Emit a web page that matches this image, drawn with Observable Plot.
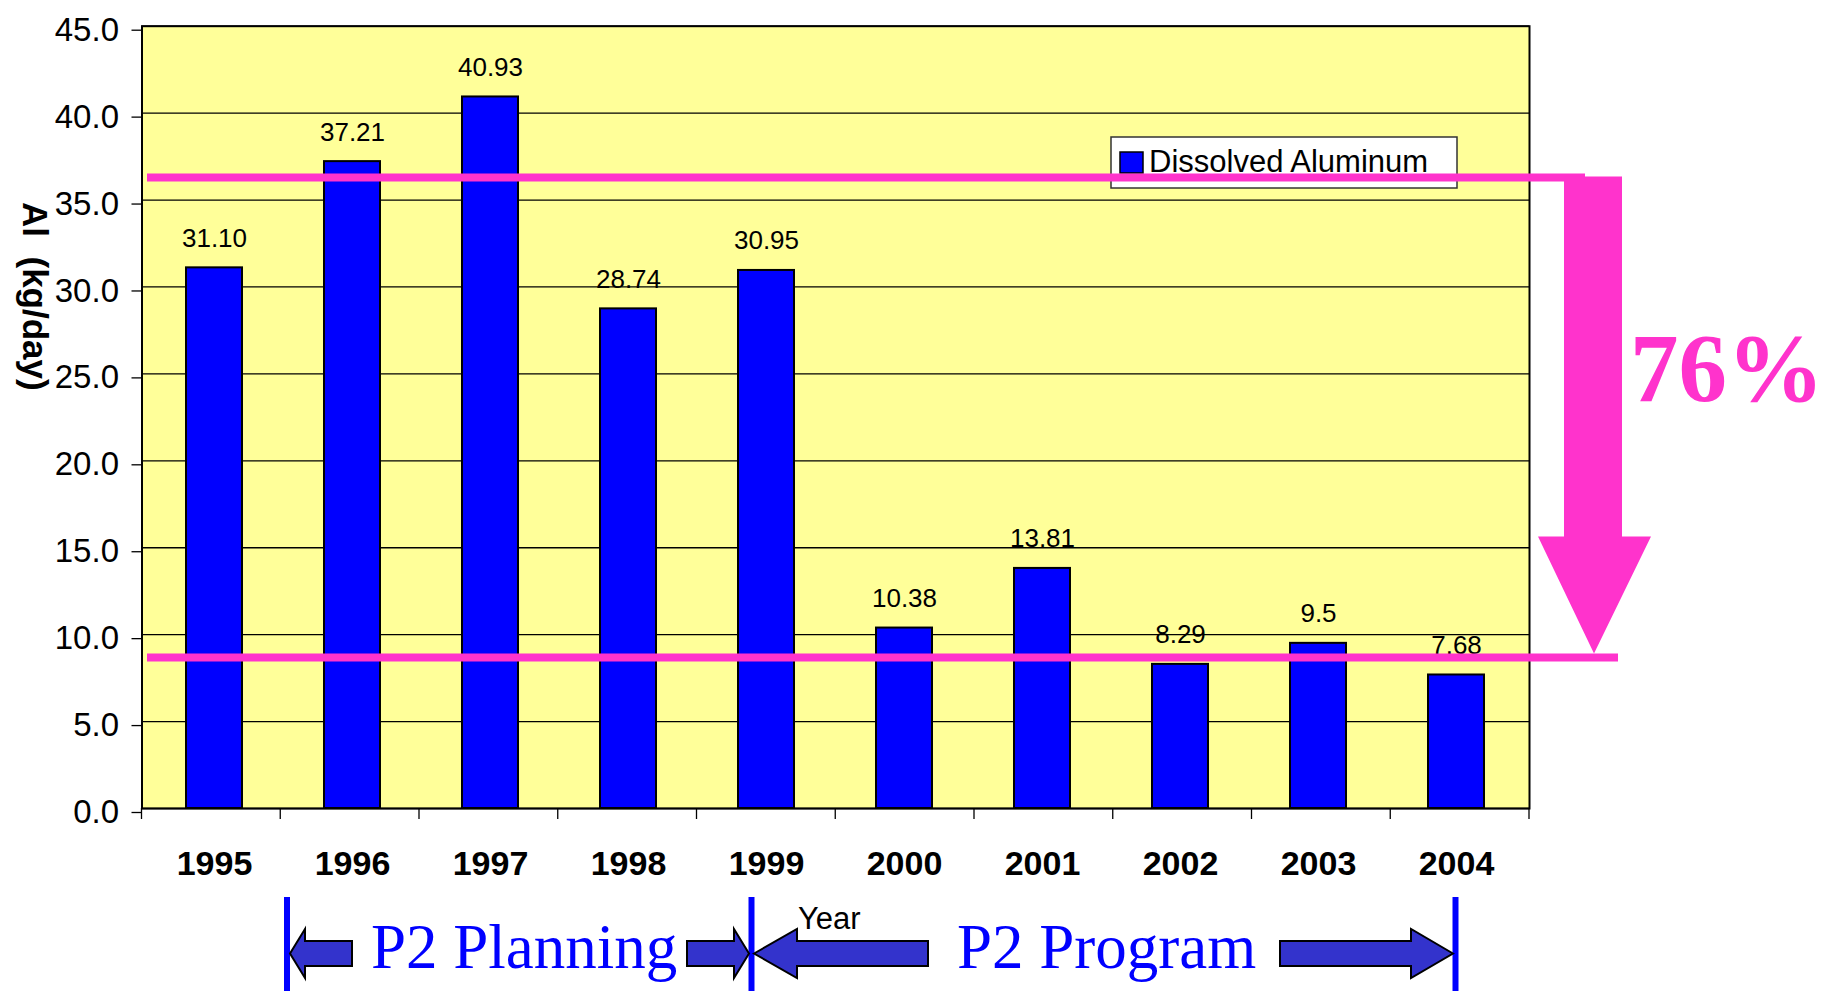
<!DOCTYPE html>
<html>
<head>
<meta charset="utf-8">
<script src="https://cdn.jsdelivr.net/npm/d3@7"></script>
<script src="https://cdn.jsdelivr.net/npm/@observablehq/plot@0.6"></script>
<style>
  body { margin: 0; background: #ffffff; }
  #chart svg { display: block; }
</style>
</head>
<body>
<div id="chart"></div>
<script>
// ---- data ----
const years = ["1995", "1996", "1997", "1998", "1999", "2000", "2001", "2002", "2003", "2004"];
const values = [31.10, 37.21, 40.93, 28.74, 30.95, 10.38, 13.81, 8.29, 9.5, 7.68];
const valueLabels = ["31.10", "37.21", "40.93", "28.74", "30.95", "10.38", "13.81", "8.29", "9.5", "7.68"];
const yTicks = [0, 5, 10, 15, 20, 25, 30, 35, 40, 45];
const referenceLevels = [36.27, 8.66];          // pink before / after lines
const reductionText = "76%";
const seriesName = "Dissolved Aluminum";
const yLabel = "Al  (kg/day)";
const xLabel = "Year";
const phaseNames = ["P2 Planning", "P2 Program"];

const data = years.map((year, i) => ({year, value: values[i], label: valueLabels[i]}));

// ---- layout ----
const W = 1821, H = 991;
const mL = 141.5, mR = 292, mT = 25.7, mB = 183;
const pink = "#FF33CC";
const sans = "'Liberation Sans', Arial, Helvetica, sans-serif";
const serif = "'Liberation Serif', 'Times New Roman', serif";

function txt(g, x, y, s, size, opts = {}) {
  return g.append("text")
    .attr("x", x).attr("y", y)
    .attr("font-family", opts.family || sans)
    .attr("font-size", size)
    .attr("font-weight", opts.weight || "normal")
    .attr("fill", opts.fill || "#000")
    .attr("text-anchor", opts.anchor || "start")
    .text(s);
}

// x boundary tick marks (Excel style, between categories)
function boundaryTicks(index, scales, values, dims) {
  const g = d3.create("svg:g");
  const left = dims.marginLeft, right = dims.width - dims.marginRight;
  const bottom = dims.height - dims.marginBottom;
  const step = (right - left) / years.length;
  d3.range(years.length + 1).forEach(i => {
    const x = left + i * step;
    g.append("line").attr("x1", x).attr("x2", x)
      .attr("y1", bottom).attr("y2", bottom + 11)
      .attr("stroke", "#000").attr("stroke-width", 1.3);
  });
  return g.node();
}

// legend + pink reduction annotation
function annotations(index, scales, values, dims) {
  const g = d3.create("svg:g");
  // legend box
  g.append("rect").attr("x", 1111).attr("y", 137).attr("width", 346).attr("height", 51)
    .attr("fill", "#fff").attr("stroke", "#333").attr("stroke-width", 1.5);
  g.append("rect").attr("x", 1120).attr("y", 152).attr("width", 23).attr("height", 21)
    .attr("fill", "#0000FF").attr("stroke", "#000").attr("stroke-width", 1.5);
  txt(g, 1149, 172, seriesName, 31);

  const yHi = scales.y(referenceLevels[0]);
  const yLo = scales.y(referenceLevels[1]);
  // reference lines
  g.append("line").attr("x1", 147).attr("x2", 1585).attr("y1", yHi).attr("y2", yHi)
    .attr("stroke", pink).attr("stroke-width", 8);
  g.append("line").attr("x1", 147).attr("x2", 1618).attr("y1", yLo).attr("y2", yLo)
    .attr("stroke", pink).attr("stroke-width", 8);
  // down arrow
  const tipY = yLo - 4, headY = tipY - 117, topY = yHi - 1;
  const pts = [[1564, topY], [1622, topY], [1622, headY], [1651, headY], [1594, tipY],
               [1538, headY], [1564, headY]];
  g.append("polygon").attr("points", pts.map(p => p.join(",")).join(" ")).attr("fill", pink);
  txt(g, 1630, 401, reductionText, 97, {family: serif, weight: "bold", fill: pink});
  return g.node();
}

// bottom phase annotation
function phases(index, scales, values, dims) {
  const g = d3.create("svg:g");
  const blue = "#0000FF", arrowFill = "#3333CC";
  [287, 751.5, 1455.5].forEach(x => {
    g.append("line").attr("x1", x).attr("x2", x).attr("y1", 897).attr("y2", 995)
      .attr("stroke", blue).attr("stroke-width", 6);
  });
  const yc = 953.5, hh = 24.5, sh = 12.5;
  function arrow(tip, base, end) {
    const pts = [[tip, yc], [base, yc - hh], [base, yc - sh], [end, yc - sh],
                 [end, yc + sh], [base, yc + sh], [base, yc + hh]];
    g.append("polygon").attr("points", pts.map(p => p.join(",")).join(" "))
      .attr("fill", arrowFill).attr("stroke", "#000").attr("stroke-width", 2)
      .attr("stroke-linejoin", "miter");
  }
  arrow(290, 305, 352);
  arrow(749, 734, 687);
  arrow(754, 797, 928);
  arrow(1453, 1411, 1280);
  txt(g, 371, 968, phaseNames[0], 63, {family: serif, fill: blue});
  txt(g, 957, 968, phaseNames[1], 63, {family: serif, fill: blue});
  txt(g, 798, 929, xLabel, 31);
  return g.node();
}

const chart = Plot.plot({
  width: W,
  height: H,
  marginLeft: mL,
  marginRight: mR,
  marginTop: mT,
  marginBottom: mB,
  style: {fontFamily: sans, background: "#fff", overflow: "visible"},
  x: {type: "band", domain: years, paddingInner: 0.592, paddingOuter: 0.296, align: 0.5},
  y: {domain: [0, 45]},
  marks: [
    Plot.frame({fill: "#FFFF99", stroke: null}),
    Plot.gridY(yTicks, {stroke: "#000", strokeOpacity: 1, strokeWidth: 1.3}),
    Plot.barY(data, {x: "year", y: "value", fill: "#0000FF", stroke: "#000", strokeWidth: 2}),
    Plot.text(data, {x: "year", y: "value", text: "label", dy: -21, lineAnchor: "bottom",
                     fontSize: 26, fill: "#000"}),
    Plot.frame({stroke: "#000", strokeWidth: 2}),
    Plot.axisY(yTicks, {tickFormat: d3.format(".1f"), fontSize: 33, tickSize: 10,
                        tickPadding: 13, dy: 4, label: null, stroke: "#000", strokeWidth: 1.3}),
    Plot.axisX({tickSize: 0, tickPadding: 42, fontSize: 34, fontWeight: "bold", label: null}),
    Plot.text([yLabel], {frameAnchor: "left", textAnchor: "middle", dx: -108, dy: -121, rotate: 90,
                         fontSize: 35, fontWeight: "bold", fill: "#000"}),
    boundaryTicks,
    annotations,
    phases
  ]
});
chart.querySelectorAll("text").forEach(t => t.style.whiteSpace = "pre");
document.getElementById("chart").appendChild(chart);
</script>
</body>
</html>
